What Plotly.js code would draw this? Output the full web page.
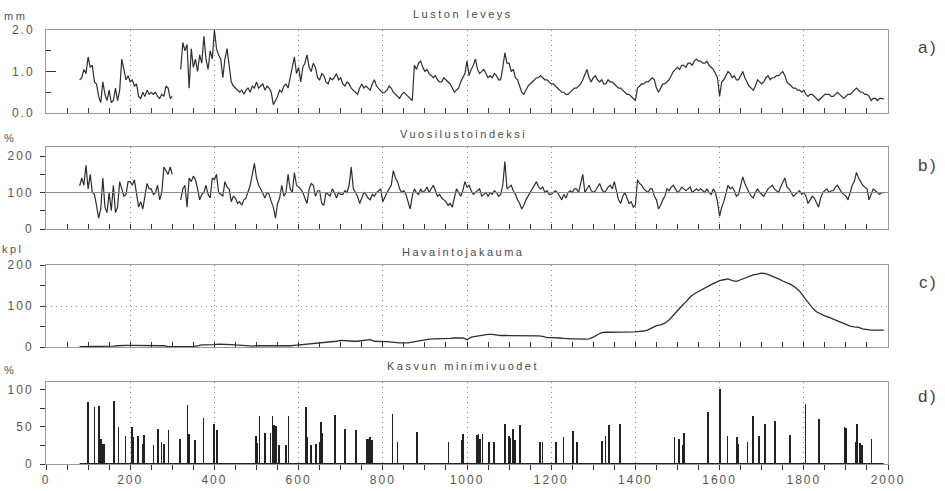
<!DOCTYPE html>
<html>
<head>
<meta charset="utf-8">
<script src="https://cdn.plot.ly/plotly-3.0.1.min.js"></script>
<style>
html,body{margin:0;padding:0;background:#fff;}
#chart{width:945px;height:491px;}
g.xtick text,g.ytick text,g.x4tick text,g.y2tick text,g.y3tick text,g.y4tick text{letter-spacing:2px;}
.annotation-text{letter-spacing:2.5px;}
</style>
</head>
<body>
<div id="chart"></div>
<script>
// ---------- DATA ----------
// a) Luston leveys (mm), 5-year readings from year 80 to 1990
const ringStart = 80, ringStep = 5;
const ringWidth = [
  0.8,0.85,1.05,0.95,
  1.35,1.1,1.15,0.75,0.7,0.4,0.25,0.75,0.45,0.3,0.55,0.25,0.3,0.6,0.3,0.55,1.3,1.0,0.8,0.9,
  0.75,0.8,0.65,0.7,0.4,0.35,0.5,0.4,0.55,0.45,0.5,0.45,0.5,0.4,0.35,0.45,0.4,0.65,0.6,0.35,
  0.4,null,null,null,1.05,1.7,1.5,1.65,0.6,1.55,1.1,1.3,1.0,1.4,1.2,1.85,1.3,1.05,1.5,1.3,
  2.0,1.55,1.4,1.3,0.85,1.3,1.55,1.2,0.75,0.65,0.6,0.55,0.5,0.55,0.45,0.55,0.6,0.5,0.65,0.6,
  0.75,0.6,0.65,0.7,0.55,0.65,0.6,0.5,0.2,0.3,0.4,0.55,0.5,0.65,0.7,0.6,0.85,1.1,1.35,0.95,
  1.1,0.75,1.1,1.2,1.4,1.1,1.0,1.2,1.1,0.85,0.8,0.95,0.9,0.75,0.7,0.85,0.8,0.85,0.95,0.8,
  0.85,0.7,0.65,0.75,0.7,0.6,0.55,0.5,0.45,0.6,0.7,0.6,0.65,0.6,0.55,0.7,0.8,0.65,0.6,0.55,
  0.48,0.5,0.55,0.65,0.6,0.5,0.45,0.4,0.35,0.45,0.5,0.45,0.4,0.35,0.3,1.15,1.05,1.2,1.25,1.1,
  1.0,1.05,0.95,0.9,0.85,0.9,0.8,0.75,0.75,0.85,0.8,0.75,0.7,0.6,0.5,0.55,0.6,0.75,0.85,0.95,
  1.25,0.9,1.05,1.15,1.3,1.05,0.95,1.0,1.05,0.95,0.85,0.9,0.85,0.95,0.9,0.8,0.8,1.1,1.45,1.2,
  1.2,1.0,1.05,0.85,0.8,0.65,0.5,0.45,0.55,0.65,0.7,0.75,0.8,0.85,0.85,0.9,0.85,0.8,0.8,0.75,
  0.7,0.7,0.65,0.6,0.55,0.5,0.5,0.45,0.45,0.5,0.55,0.6,0.6,0.65,0.7,0.8,0.95,1.05,0.85,0.75,
  0.85,0.9,0.8,0.75,0.8,0.7,0.7,0.8,0.75,0.75,0.7,0.65,0.6,0.6,0.55,0.5,0.45,0.45,0.4,0.35,
  0.3,0.6,0.65,0.7,0.7,0.75,0.75,0.8,0.85,0.8,0.6,0.5,0.6,0.7,0.7,0.75,0.8,0.9,1.0,1.05,
  1.1,1.05,1.15,1.15,1.1,1.2,1.2,1.15,1.25,1.3,1.25,1.25,1.2,1.2,1.25,1.15,1.1,1.05,0.95,0.85,
  0.4,0.75,0.8,0.9,1.0,0.95,0.85,0.9,0.8,0.8,0.9,1.0,0.85,0.75,0.65,0.6,0.55,0.65,0.8,0.75,
  0.7,0.75,0.85,0.9,0.8,0.85,0.85,0.9,0.9,0.95,1.0,0.9,0.75,0.7,0.65,0.6,0.6,0.55,0.55,0.5,
  0.55,0.45,0.4,0.45,0.45,0.4,0.35,0.3,0.35,0.4,0.45,0.45,0.45,0.4,0.4,0.45,0.5,0.45,0.4,0.35,
  0.4,0.45,0.45,0.5,0.55,0.6,0.55,0.5,0.5,0.45,0.45,0.4,0.3,0.35,0.35,0.3,0.35,0.35,0.33
];

// b) Vuosilustoindeksi (%), 5-year readings from year 80 to 1990
const indexStart = 80, indexStep = 5;
const ringIndex = [
  118,140,120,175,
  110,150,100,95,65,30,55,140,60,45,100,50,120,45,60,130,110,90,95,130,
  130,120,135,90,60,75,55,90,125,110,110,95,100,120,80,100,170,160,150,170,
  150,null,null,null,80,110,120,60,140,130,145,135,110,80,95,100,120,95,85,140,
  135,150,100,95,90,130,115,110,75,90,85,70,75,65,80,85,100,120,150,180,
  140,120,110,95,85,100,95,75,60,30,70,85,120,90,100,150,110,100,155,120,
  115,110,100,85,70,110,125,120,90,105,105,70,65,100,95,90,110,100,85,100,
  95,95,105,100,120,170,110,100,90,70,85,100,95,85,80,95,90,100,105,110,
  75,90,100,110,120,160,140,130,110,100,105,95,75,55,90,110,100,95,110,100,
  105,115,100,110,120,105,90,95,85,80,75,65,70,60,90,110,100,90,105,130,
  115,120,105,95,100,105,110,90,95,100,90,100,95,105,100,90,95,120,185,110,
  115,120,105,95,80,70,55,65,80,90,100,110,120,130,115,110,115,100,105,95,
  95,100,105,100,90,80,95,85,100,105,100,110,110,100,125,150,100,110,120,105,
  100,105,115,125,110,100,105,115,120,110,130,100,80,70,90,100,85,70,75,60,
  65,135,125,120,110,105,100,110,110,90,80,55,65,80,90,110,105,115,120,110,
  100,105,115,110,105,110,115,100,105,110,105,110,105,100,110,100,95,110,100,75,
  35,60,75,100,120,110,115,105,90,95,120,143,125,110,100,90,85,100,110,100,
  95,90,100,110,115,120,110,105,100,115,130,140,115,110,100,90,95,100,105,95,
  100,90,70,80,90,85,70,60,85,100,105,110,100,105,105,115,120,110,100,95,
  90,80,100,120,130,155,140,130,120,115,110,80,95,110,105,100,95,100,100
];

// c) Havaintojakauma (kpl), 10-year readings from year 80 to 1990
const countStart = 80, countStep = 10;
const sampleCount = [
  1,1,
  1,1,1,1.5,2,2,2,3,4,4,
  4,4,4,4,4,4,3,3,3,1,
  0.5,0.5,1,1,1,1.5,3,5,5,5,
  6,7,7,6,6,5,4,3,3,2,
  3,3,3,3,2,2,2,2,3,4,
  5,6,7,7,8,9,10,11,12,14,
  16,15,15,14,14,15,16,18,14,13,
  13,13,12,10,10,10,10,12,14,16,
  17,19,20,20,21,21,21,22,22,22,
  18,24,26,28,29,31,31,29,28,28,
  28,28,27,27,27,27,27,27,26,23,
  23,23,22,21,20,20,20,19,19,20,
  24,30,35,36,36,36,36,36,37,37,
  37,38,39,42,48,52,54,58,66,78,
  89,100,110,122,130,136,142,147,152,157,
  162,164,166,162,160,164,168,172,176,178,
  180,179,175,170,166,161,157,152,145,136,
  122,108,96,86,80,76,72,68,64,60,
  56,51,49,48,44,42,41,41,41,41
];

// d) Kasvun minimivuodet (%)
const minYears = [99,115,126,130,136,139,162,172,189,204,207,219,230,232,255,266,274,281,291,318,336,340,354,374,399,406,
  499,502,507,520,533,538,542,546,553,570,576,618,621,629,641,651,654,656,686,711,736,763,766,770,774,823,835,882,956,987,991,
  1023,1027,1031,1037,1052,1064,1090,1099,1102,1110,1114,1126,1174,1179,1211,1229,1251,1262,1320,1329,1338,1363,
  1493,1503,1512,1515,1573,1601,1619,1641,1644,1666,1680,1694,1708,1732,1768,1804,1836,1897,1901,1923,1927,1933,1938,1961];
const minValues = [83,76,78,33,27,27,85,49,38,50,36,37,27,39,26,47,29,27,46,33,79,40,32,62,54,45,
  38,28,65,41,41,64,52,51,26,26,65,77,36,26,27,29,56,41,66,47,46,33,33,36,32,67,29,43,29,32,40,
  39,40,33,40,29,29,53,37,35,47,32,52,30,29,30,36,44,29,31,38,52,53,
  36,33,26,41,70,100,37,36,27,29,65,37,54,58,39,80,61,50,48,29,54,28,26,33];
const baselineYears = [80,1990];
const baselineValues = [0,0];

// Titles / labels
const panelTitles = ["Luston leveys","Vuosilustoindeksi","Havaintojakauma","Kasvun minimivuodet"];
const unitLabels = ["mm","%","kpl","%"];
const panelLetters = ["a)","b)","c)","d)"];

// ---------- BUILD ----------
function seriesYears(start, step, n){ const out=[]; for(let i=0;i<n;i++) out.push(start+i*step); return out; }

const W=945,H=491, L=46, R=888, T=30, B=464;
const px = x => (x-L)/(R-L);
const py = y => (B-y)/(B-T);

const lineCol='#2e2e2e', frameCol='#9a9a9a', tickCol='#333', txtCol='#4a4a4a';

const traces = [
  {x:seriesYears(ringStart,ringStep,ringWidth.length), y:ringWidth, type:'scatter', mode:'lines',
   line:{color:lineCol,width:1.2}, xaxis:'x', yaxis:'y', connectgaps:false, hoverinfo:'skip'},
  {x:seriesYears(indexStart,indexStep,ringIndex.length), y:ringIndex, type:'scatter', mode:'lines',
   line:{color:lineCol,width:1.2}, xaxis:'x2', yaxis:'y2', connectgaps:false, hoverinfo:'skip'},
  {x:seriesYears(countStart,countStep,sampleCount.length), y:sampleCount, type:'scatter', mode:'lines',
   line:{color:lineCol,width:1.3}, xaxis:'x3', yaxis:'y3', hoverinfo:'skip'},
  {x:minYears, y:minValues, type:'bar', width:4, marker:{color:'#222', line:{width:0}},
   xaxis:'x4', yaxis:'y4', hoverinfo:'skip'},
  {x:baselineYears, y:baselineValues, type:'scatter', mode:'lines', line:{color:'#222',width:2},
   xaxis:'x4', yaxis:'y4', hoverinfo:'skip'}
];

function xax(anchor, last){
  return {
    anchor:anchor, range:[0,2000], domain:[0,1],
    showline:true, mirror:true, linecolor:frameCol, linewidth:1,
    showgrid:true, gridcolor:'#8a8a8a', griddash:'1px,4px', gridwidth:1,
    tickmode:'linear', tick0:0, dtick:200, zeroline:false,
    ticks: last ? 'outside' : 'inside', ticklen:5, tickwidth:1, tickcolor:tickCol,
    minor:{dtick:50, tick0:0, ticks: last ? 'outside':'inside', ticklen:5, tickwidth:1, tickcolor:tickCol},
    showticklabels: !!last, fixedrange:true
  };
}
function yax(domain, range, dtick, minorDtick, fmt, inside, grid){
  return {
    domain:domain, range:range, tickmode:'linear', dtick:dtick, tick0:0,
    showline:true, mirror:true, linecolor:frameCol, linewidth:1,
    showgrid:!!grid, gridcolor:'#8a8a8a', griddash:'1px,4px', zeroline:false,
    ticks: inside ? 'inside':'outside', ticklen: inside ? 10 : 5, tickwidth:1, tickcolor:tickCol,
    minor:{dtick:minorDtick, tick0:0, ticks: inside ? 'inside':'outside', ticklen:5, tickwidth:1, tickcolor:tickCol},
    tickformat:fmt, ticklabelstandoff: inside ? 8 : 4, fixedrange:true
  };
}

const annFont = {family:'"Liberation Sans", Arial, sans-serif', size:11, color:txtCol};
const titleY = [14,134,252,366];
const unitPos = [[15,16],[10,138],[13,249],[10,370]];
const letterY = [47,165,282,396];
const annotations = [];
panelTitles.forEach((t,i)=>annotations.push({text:t, xref:'paper', yref:'paper', x:px(463), y:py(titleY[i]),
  xanchor:'center', yanchor:'middle', showarrow:false, font:annFont}));
unitLabels.forEach((t,i)=>annotations.push({text:t, xref:'paper', yref:'paper', x:px(unitPos[i][0]), y:py(unitPos[i][1]),
  xanchor:'center', yanchor:'middle', showarrow:false, font:{family:annFont.family,size:11,color:'#555'}}));
panelLetters.forEach((t,i)=>annotations.push({text:t, xref:'paper', yref:'paper', x:px(928), y:py(letterY[i]),
  xanchor:'center', yanchor:'middle', showarrow:false, font:{family:annFont.family,size:17,color:'#444'}}));

const layout = {
  width:W, height:H, margin:{l:L, r:W-R, t:T, b:H-B, pad:0},
  font:{family:'"Liberation Sans", Arial, sans-serif', size:12, color:'#555'},
  paper_bgcolor:'#fff', plot_bgcolor:'#fff', showlegend:false, bargap:0,
  xaxis:xax('y',false), xaxis2:xax('y2',false), xaxis3:xax('y3',false), xaxis4:xax('y4',true),
  yaxis: yax([py(113),1], [0,2], 1, 0.5, '.1f', true, false),
  yaxis2:yax([py(229),py(147)], [0,225], 100, 50, 'd', false, false),
  yaxis3:yax([py(347),py(265)], [0,200], 100, 50, 'd', false, true),
  yaxis4:yax([0,py(382)], [0,110], 50, 25, 'd', false, false),
  shapes:[{type:'line', xref:'x2', yref:'y2', x0:0, x1:2000, y0:100, y1:100, line:{color:'#888', width:1}}],
  annotations:annotations
};

Plotly.newPlot('chart', traces, layout, {displayModeBar:false, staticPlot:true});
</script>
</body>
</html>
